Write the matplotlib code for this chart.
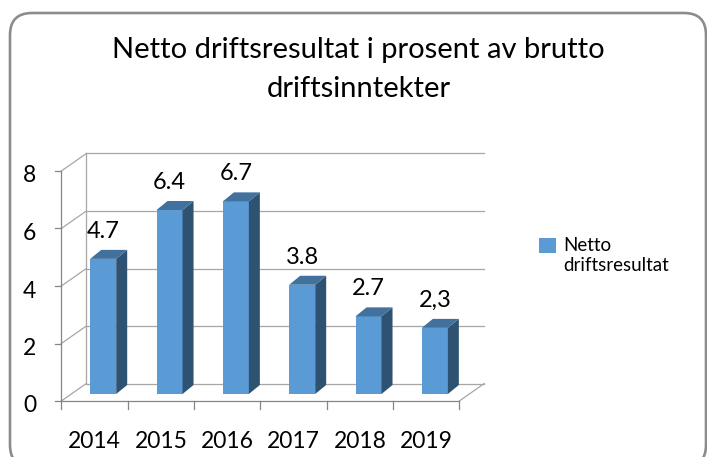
import matplotlib
matplotlib.use("Agg")
import matplotlib.pyplot as plt
import matplotlib.patches as patches
import matplotlib.transforms as mtransforms
import numpy as np

# Chart data
years = ["2014", "2015", "2016", "2017", "2018", "2019"]
values = [4.7, 6.4, 6.7, 3.8, 2.7, 2.3]
value_labels = ["4.7", "6.4", "6.7", "3.8", "2.7", "2,3"]
y_ticks = [0, 2, 4, 6, 8]
title_lines = ["Netto driftsresultat i prosent av brutto", "driftsinntekter"]
series_name = "Netto\ndriftsresultat"

# Colours
FRONT_COLOR = "#5B9BD5"
TOP_COLOR = "#41719C"
SIDE_COLOR = "#2E5272"
GRID_COLOR = "#A6A6A6"
AXIS_COLOR = "#868686"
BORDER_COLOR = "#8C8C8C"
FONT = ["Lato", "DejaVu Sans"]

W, H = 707, 457
plt.rcParams["font.family"] = FONT

# Pixel scale of the front plane (category units and value units)
PX_CAT = 66.33
PX_VAL = 28.75
X0_PX = 94.5   # pixel x of first category centre
Y0_PX = 401.0  # pixel y (from top) of value 0 on the front plane

# 3D offsets, converted from pixels to data units
wall_dx, wall_dy = 25 / PX_CAT, 17.5 / PX_VAL
bar_off_x, bar_off_y = 8.7 / PX_CAT, 7 / PX_VAL
bar_w = 26 / PX_CAT
bar_ddx, bar_ddy = 11 / PX_CAT, 9 / PX_VAL

fig = plt.figure(figsize=(W / 100, H / 100), dpi=100)
fig.patch.set_facecolor("white")
ax = fig.add_axes([0, 0, 1, 1])
ax.set_xlim(-X0_PX / PX_CAT, (W - X0_PX) / PX_CAT)
ax.set_ylim((Y0_PX - H) / PX_VAL, Y0_PX / PX_VAL)
ax.axis("off")

x = np.arange(len(years))
left, right = -0.5, len(years) - 0.5
top_val = max(y_ticks)

# Back wall gridlines and left wall diagonals
for v in y_ticks:
    ax.plot([left + wall_dx, right + wall_dx], [v + wall_dy, v + wall_dy],
            color=GRID_COLOR, lw=0.9, zorder=1)
    ax.plot([left, left + wall_dx], [v, v + wall_dy], color=GRID_COLOR, lw=0.9, zorder=1)
    ax.plot([left - 6 / PX_CAT, left], [v, v], color=AXIS_COLOR, lw=0.9, zorder=1)
    ax.text(left - 25 / PX_CAT, v - 5 / PX_VAL, str(v), ha="right", va="center",
            fontsize=16.5, color="black")
ax.plot([left + wall_dx, left + wall_dx], [wall_dy, top_val + wall_dy], color=GRID_COLOR, lw=0.9, zorder=1)
ax.plot([left, left], [0, top_val], color=AXIS_COLOR, lw=0.9, zorder=1)

# Floor
ax.plot([left, right], [0, 0], color=AXIS_COLOR, lw=0.9, zorder=1)
ax.plot([right, right + wall_dx], [0, wall_dy], color=GRID_COLOR, lw=0.9, zorder=1)
for b in np.arange(left, right + 0.01, 1):
    ax.plot([b, b], [0, -8 / PX_VAL], color=AXIS_COLOR, lw=0.9, zorder=1)
for xi, yr in zip(x, years):
    ax.text(xi, -41 / PX_VAL, yr, ha="center", va="center", fontsize=16.5, color="black")

# Bars: front face through ax.bar, then side and top faces
bars = ax.bar(x + bar_off_x, values, width=bar_w, bottom=bar_off_y,
              color=FRONT_COLOR, zorder=3, label=series_name)
for xi, v, lab in zip(x, values, value_labels):
    xl = xi + bar_off_x - bar_w / 2
    xr = xi + bar_off_x + bar_w / 2
    b = bar_off_y
    t = bar_off_y + v
    side = patches.Polygon([(xr, b), (xr + bar_ddx, b + bar_ddy),
                            (xr + bar_ddx, t + bar_ddy), (xr, t)],
                           closed=True, facecolor=SIDE_COLOR, edgecolor="none", zorder=3)
    top = patches.Polygon([(xl, t), (xr, t), (xr + bar_ddx, t + bar_ddy),
                           (xl + bar_ddx, t + bar_ddy)],
                          closed=True, facecolor=TOP_COLOR, edgecolor="none", zorder=3)
    ax.add_patch(side)
    ax.add_patch(top)
    ax.text(xi + bar_off_x, t + 27.5 / PX_VAL, lab, ha="center", va="center",
            fontsize=17, color="black")

# Title, one text per line
for line, base_px in zip(title_lines, [58, 97]):
    fig.text(358.5 / W, 1 - base_px / H, line, ha="center", va="baseline",
             fontsize=21, color="black")

# Legend (square and two-line label)
fig.add_artist(patches.Rectangle((539 / W, 1 - 253 / H), 17 / W, 15 / H,
                                 transform=fig.transFigure, facecolor=FRONT_COLOR,
                                 edgecolor="none"))
fig.text(563 / W, 1 - 237 / H, series_name, ha="left", va="top", fontsize=13.5,
         linespacing=1.2, color="black")

# Rounded chart border
border = patches.FancyBboxPatch((10, -10), 696, 457 - 13 + 10,
                                boxstyle="round,pad=0,rounding_size=22",
                                transform=mtransforms.IdentityTransform(),
                                facecolor="none", edgecolor=BORDER_COLOR, lw=1.9)
fig.add_artist(border)

fig.savefig("out.png", dpi=100)
